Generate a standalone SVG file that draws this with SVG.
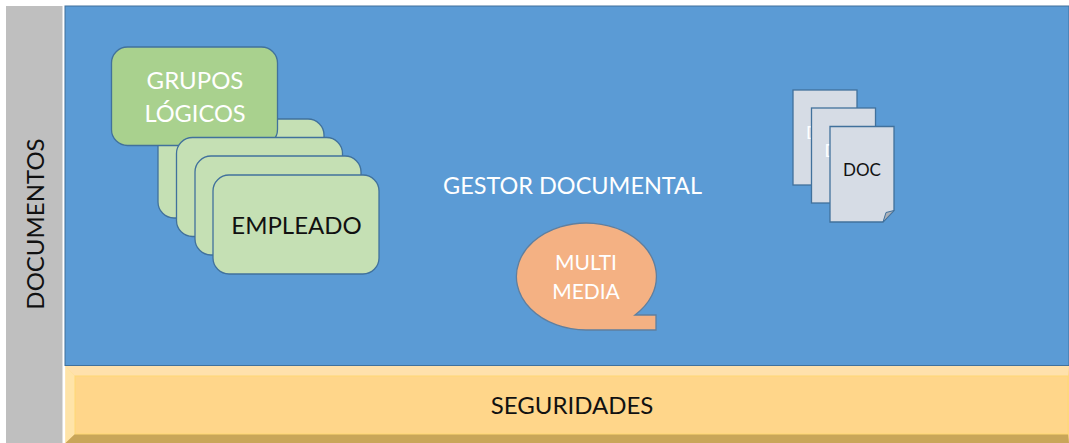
<svg xmlns="http://www.w3.org/2000/svg" width="1069" height="443" viewBox="0 0 1069 443">
<style>
text{font-family:Lato,"Liberation Sans",sans-serif;text-anchor:middle}
.card{fill:#c5e0b4;stroke:#41719c;stroke-width:1.3}
.doc{fill:#d6dce5;stroke:#41719c;stroke-width:1.3}
.w{fill:#fff}.k{fill:#111}
</style>
<rect width="1069" height="443" fill="#fff"/>
<g id="documentos"><rect x="6" y="6" width="56.5" height="437" fill="#bfbfbf"/>
<text class="k" transform="translate(44,224) rotate(-90)" font-size="24">DOCUMENTOS</text></g>
<g id="gestor"><rect x="65" y="6" width="1004" height="359.5" fill="#5b9bd5" stroke="#41719c" stroke-width="1"/>
<text class="w" x="572.5" y="194" font-size="24" textLength="259" lengthAdjust="spacingAndGlyphs">GESTOR DOCUMENTAL</text></g>
<g id="seguridades">
<rect x="65.5" y="366" width="1003.5" height="77" fill="#ffd588"/>
<polygon points="65.5,366 1069,366 1068,376 75,376" fill="#ffe1ac"/>
<polygon points="65.5,366 75,376 75,434 65.5,443" fill="#ffe4a8"/>
<polygon points="65.5,443 75,434 1068,434 1069,443" fill="#c9a659"/>
<rect x="75" y="376" width="993" height="58" fill="#ffd68a" stroke="#ffd875" stroke-width="1"/>
<text class="k" x="572" y="414" font-size="24">SEGURIDADES</text></g>
<g id="empleado-3"><rect class="card" x="158" y="119" width="166" height="99" rx="16"/></g>
<g id="grupos"><rect x="111.5" y="47" width="166" height="98.5" rx="16" fill="#a9d18e" stroke="#41719c" stroke-width="1.3"/>
<text class="w" x="195" y="89" font-size="24">GRUPOS</text><text class="w" x="195" y="122" font-size="23.6">LÓGICOS</text></g>
<g id="empleado-2"><rect class="card" x="176.5" y="137.5" width="166" height="99" rx="16"/></g>
<g id="empleado-1"><rect class="card" x="195" y="156" width="166" height="99" rx="16"/></g>
<g id="empleado"><rect class="card" x="213" y="175" width="166" height="99" rx="16"/>
<text class="k" x="296.5" y="234" font-size="24">EMPLEADO</text></g>
<g id="multimedia"><path d="M635 315H656V330H586A70 53.5 0 1 1 635 315Z" fill="#f4b183" stroke="#5f7f9f" stroke-width="1.3"/>
<text class="w" x="586" y="270" font-size="21">MULTI</text><text class="w" x="586" y="299" font-size="21">MEDIA</text></g>
<g id="doc-3"><rect class="doc" x="793" y="90" width="64" height="95"/><text class="w" x="825" y="139" font-size="17">DOC</text></g>
<g id="doc-2"><rect class="doc" x="811.5" y="108" width="64" height="95"/><text class="w" x="843.5" y="157" font-size="17">DOC</text></g>
<g id="doc-1"><path class="doc" d="M830 126.5H894V210.5L883 222H830Z"/>
<path d="M894 210.5L886 212.5L883 222Z" fill="#acb0b7" stroke="#41719c" stroke-width="1"/>
<text class="k" x="862" y="175.500" font-size="17">DOC</text></g>
</svg>
